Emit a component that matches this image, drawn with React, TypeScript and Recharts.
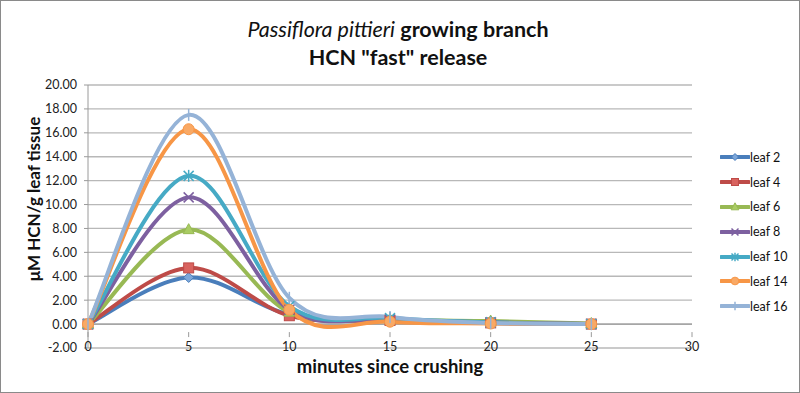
import React from 'react';
import { LineChart, Line, XAxis, YAxis, CartesianGrid, ReferenceLine } from 'recharts';

// minutes since crushing
const minutes = [0, 5, 10, 15, 20, 25];

const leaf2 = [0, 3.9, 0.8, 0.3, 0.1, 0.0];
const leaf4 = [0, 4.7, 0.7, 0.3, 0.1, 0.0];
const leaf6 = [0, 7.9, 1.0, 0.4, 0.25, 0.05];
const leaf8 = [0, 10.6, 1.2, 0.4, 0.15, 0.0];
const leaf10 = [0, 12.4, 1.5, 0.5, 0.15, 0.0];
const leaf14 = [0, 16.3, 1.2, 0.2, 0.05, 0.0];
const leaf16 = [0, 17.5, 2.2, 0.6, 0.1, 0.0];

const xTicks = [0, 5, 10, 15, 20, 25, 30];
const yTicks = [-2, 0, 2, 4, 6, 8, 10, 12, 14, 16, 18, 20];

const W = 800;
const H = 393;
const X_AXIS_H = 30;
const MARGIN = { top: 85, right: 108, bottom: 45 - X_AXIS_H, left: 38 };
const Y_MIN = -2;
const Y_MAX = 20;
const FONT = 'Lato, "Open Sans", sans-serif';

const series = [
  { key: 'leaf2', name: 'leaf 2', values: leaf2, color: '#4A7EBB', fill: '#7DA7DA', marker: 'diamond' },
  { key: 'leaf4', name: 'leaf 4', values: leaf4, color: '#BE4B48', fill: '#D9635F', marker: 'square' },
  { key: 'leaf6', name: 'leaf 6', values: leaf6, color: '#98B954', fill: '#A9CC63', marker: 'triangle' },
  { key: 'leaf8', name: 'leaf 8', values: leaf8, color: '#7D60A0', fill: '#9A7FBE', marker: 'x' },
  { key: 'leaf10', name: 'leaf 10', values: leaf10, color: '#46AAC5', fill: '#6FC3DA', marker: 'star' },
  { key: 'leaf14', name: 'leaf 14', values: leaf14, color: '#F79646', fill: '#F9A965', marker: 'circle' },
  { key: 'leaf16', name: 'leaf 16', values: leaf16, color: '#95B3D7', fill: '#A9C3E2', marker: 'plus' },
];

const data = minutes.map((m, i) => {
  const row: any = { minute: m };
  series.forEach((s) => { row[s.key] = s.values[i]; });
  return row;
});

// Excel-like smoothed line (Catmull-Rom through the points)
const excelSmooth = (context: any) => {
  let pts: number[][] = [];
  return {
    areaStart() {},
    areaEnd() {},
    lineStart() { pts = []; },
    point(x: number, y: number) { pts.push([+x, +y]); },
    lineEnd() {
      if (!pts.length) return;
      context.moveTo(pts[0][0], pts[0][1]);
      for (let i = 0; i < pts.length - 1; i++) {
        const p0 = pts[i - 1] || pts[i];
        const p1 = pts[i];
        const p2 = pts[i + 1];
        const p3 = pts[i + 2] || p2;
        context.bezierCurveTo(
          p1[0] + (p2[0] - p0[0]) / 6, p1[1] + (p2[1] - p0[1]) / 6,
          p2[0] - (p3[0] - p1[0]) / 6, p2[1] - (p3[1] - p1[1]) / 6,
          p2[0], p2[1]
        );
      }
    },
  };
};

const Marker = ({ type, cx, cy, color, fill, size = 1 }: any) => {
  if (cx == null || cy == null) return null;
  const s = size;
  switch (type) {
    case 'diamond':
      return <polygon points={`${cx},${cy - 5 * s} ${cx + 5 * s},${cy} ${cx},${cy + 5 * s} ${cx - 5 * s},${cy}`} fill={fill} stroke={color} strokeWidth={1} />;
    case 'square':
      return <rect x={cx - 5 * s} y={cy - 5 * s} width={10 * s} height={10 * s} fill={fill} stroke={color} strokeWidth={1} />;
    case 'triangle':
      return <polygon points={`${cx},${cy - 6 * s} ${cx + 5.5 * s},${cy + 4 * s} ${cx - 5.5 * s},${cy + 4 * s}`} fill={fill} stroke={color} strokeWidth={1} />;
    case 'x':
      return (
        <g stroke={color} strokeWidth={1.5}>
          <line x1={cx - 5 * s} y1={cy - 5 * s} x2={cx + 5 * s} y2={cy + 5 * s} />
          <line x1={cx - 5 * s} y1={cy + 5 * s} x2={cx + 5 * s} y2={cy - 5 * s} />
        </g>
      );
    case 'star':
      return (
        <g stroke={color} strokeWidth={1.5}>
          <line x1={cx - 5 * s} y1={cy - 5 * s} x2={cx + 5 * s} y2={cy + 5 * s} />
          <line x1={cx - 5 * s} y1={cy + 5 * s} x2={cx + 5 * s} y2={cy - 5 * s} />
          <line x1={cx} y1={cy - 6 * s} x2={cx} y2={cy + 6 * s} />
        </g>
      );
    case 'circle':
      return <circle cx={cx} cy={cy} r={5.5 * s} fill={fill} stroke={color} strokeWidth={1} />;
    case 'plus':
      return (
        <g stroke={color} strokeWidth={1.5}>
          <line x1={cx} y1={cy - 6 * s} x2={cx} y2={cy + 6 * s} />
        </g>
      );
    default:
      return null;
  }
};

const plotHeight = H - MARGIN.top - MARGIN.bottom - X_AXIS_H;
const zeroOffset = (plotHeight * (0 - Y_MIN)) / (Y_MAX - Y_MIN);

// x tick labels sit just below the zero line, where the category axis crosses
const XTick = ({ x, y, payload }: any) => {
  const y0 = y - zeroOffset;
  return (
    <g>
      <line x1={x} y1={y0} x2={x} y2={y0 + 5} stroke="#9a9a9a" />
      <text x={x} y={y0 + 19} textAnchor="middle" fontSize={12.5} fill="#222" fontFamily={FONT}>
        {payload.value}
      </text>
    </g>
  );
};

const ChartLegend = () => (
  <div style={{ position: 'absolute', left: 719, top: 144, fontFamily: FONT, fontSize: 12.5, color: '#111' }}>
    {series.map((s) => (
      <div key={s.key} style={{ display: 'flex', alignItems: 'center', height: 24.8 }}>
        <svg width={30} height={14}>
          <line x1={1} y1={7} x2={29} y2={7} stroke={s.color} strokeWidth={4} strokeLinecap="round" />
          <Marker type={s.marker} cx={15} cy={7} color={s.color} fill={s.fill} size={0.7} />
        </svg>
        <span>{s.name}</span>
      </div>
    ))}
  </div>
);

export default function App() {
  return (
    <div
      style={{
        position: 'absolute', left: 0, top: 0, width: W, height: H, background: '#fff',
        boxSizing: 'border-box', border: '1px solid #8a8a8a', fontFamily: FONT, overflow: 'hidden',
      }}
    >
      <div style={{ position: 'absolute', left: -1, top: -1 }}>
        <LineChart width={W} height={H} data={data} margin={MARGIN}>
          <CartesianGrid vertical={false} stroke="#b8b8b8" strokeWidth={1.3} />
          <XAxis
            dataKey="minute"
            type="number"
            domain={[0, 30]}
            ticks={xTicks}
            axisLine={false}
            tickLine={false}
            tick={<XTick />}
            height={X_AXIS_H}
          />
          <YAxis
            type="number"
            domain={[Y_MIN, Y_MAX]}
            ticks={yTicks}
            width={50}
            tickFormatter={(v: number) => v.toFixed(2)}
            tick={{ fontSize: 12.5, fill: '#222', fontFamily: FONT }}
            axisLine={{ stroke: '#9a9a9a' }}
            tickLine={{ stroke: '#9a9a9a' }}
            tickSize={4}
            tickMargin={7}
          />
          <ReferenceLine y={0} stroke="#9a9a9a" strokeWidth={1.3} />
          {series.map((s) => (
            <Line
              key={s.key}
              dataKey={s.key}
              name={s.name}
              type={excelSmooth as any}
              stroke={s.color}
              strokeWidth={4}
              dot={(p: any) => <Marker key={`${s.key}-${p.index}`} type={s.marker} cx={p.cx} cy={p.cy} color={s.color} fill={s.fill} />}
              activeDot={false}
              isAnimationActive={false}
            />
          ))}
        </LineChart>
      </div>
      <ChartLegend />
      <div style={{ position: 'absolute', left: -3, width: W, top: 14, textAlign: 'center', fontSize: 21.5, fontWeight: 700, lineHeight: '28px', color: '#111' }}>
        <div><span style={{ fontStyle: 'italic', fontWeight: 400 }}>Passiflora pittieri</span> growing branch</div>
        <div>HCN "fast" release</div>
      </div>
      <div style={{ position: 'absolute', left: -1, width: W - 20, top: 354, textAlign: 'center', fontSize: 18.5, fontWeight: 700, color: '#111' }}>
        minutes since crushing
      </div>
      <div
        style={{
          position: 'absolute', left: 32, top: 198, transform: 'translate(-50%, -50%) rotate(-90deg)',
          whiteSpace: 'nowrap', fontSize: 17, fontWeight: 700, color: '#111',
        }}
      >
        μM HCN/g leaf tissue
      </div>
    </div>
  );
}
